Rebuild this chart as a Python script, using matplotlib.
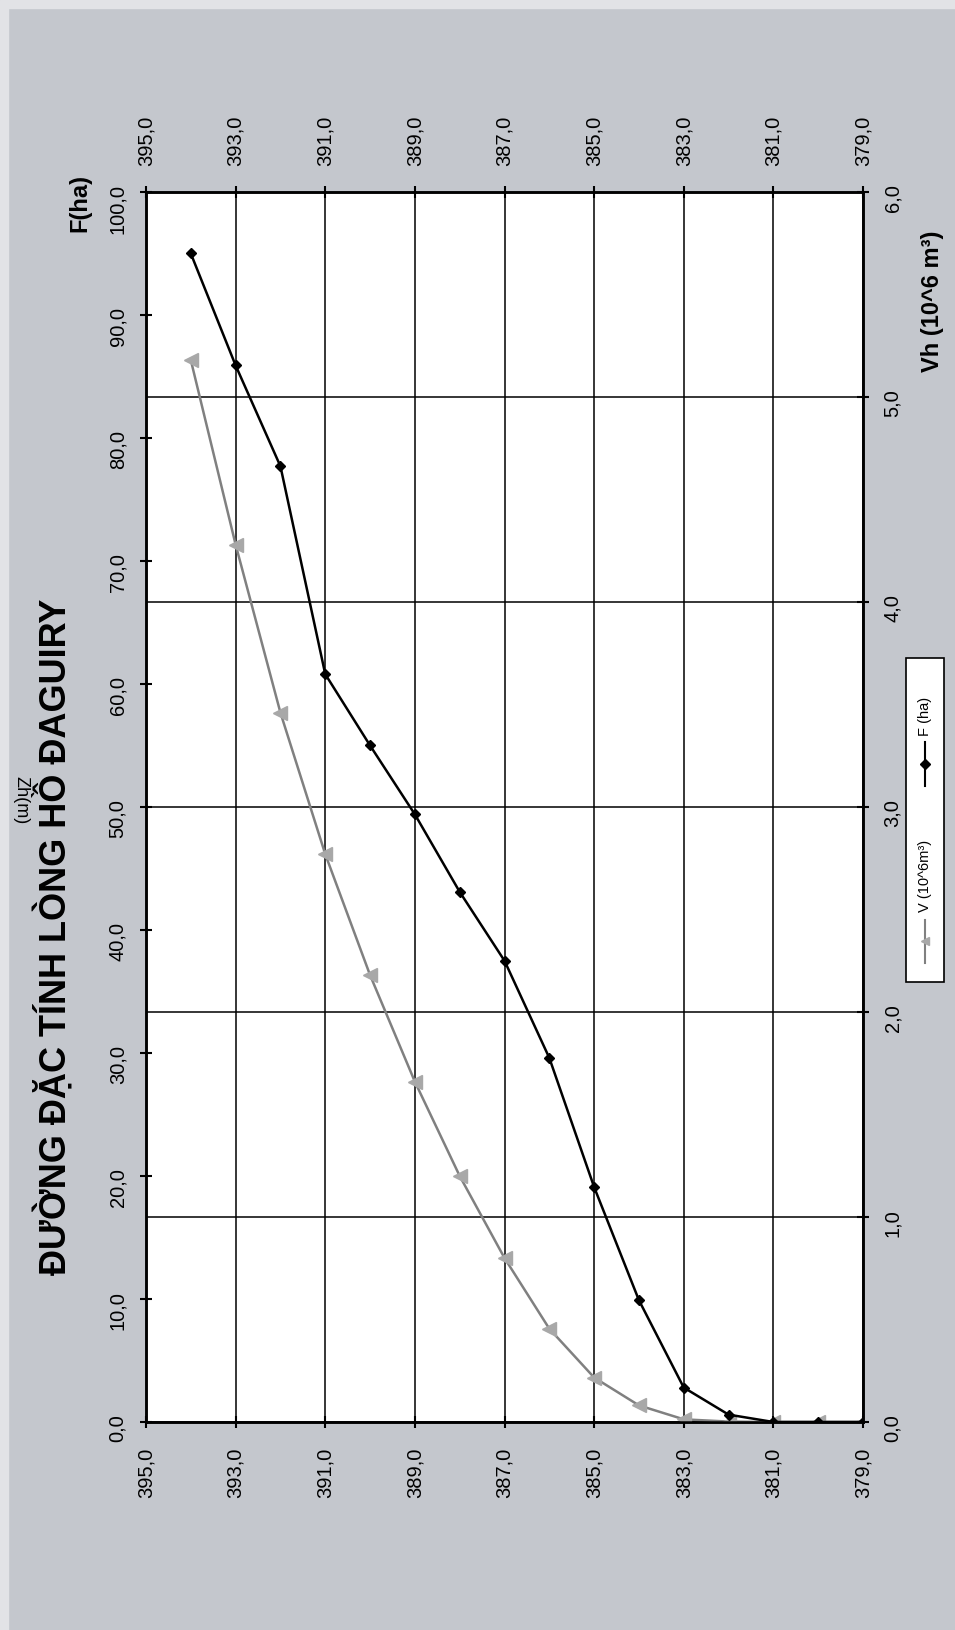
import numpy as np
import matplotlib
matplotlib.use('Agg')
import matplotlib.pyplot as plt
from matplotlib.ticker import FuncFormatter, MultipleLocator
from matplotlib.patches import Rectangle
from matplotlib.lines import Line2D

plt.rcParams['font.family'] = ['Liberation Sans', 'DejaVu Sans']

# Cao trinh mat nuoc (m), dien tich F (ha), dung tich V (10^6 m3)
cao_trinh = np.array([394, 393, 392, 391, 390, 389, 388, 387, 386, 385, 384, 383, 382, 381, 380, 379])
dien_tich = np.array([95.0, 85.9, 77.7, 60.8, 55.0, 49.4, 43.1, 37.5, 29.6, 19.1, 9.9, 2.8, 0.6, 0.0, 0.0, 0.0])
dung_tich = np.array([5.18, 4.28, 3.46, 2.77, 2.18, 1.66, 1.20, 0.80, 0.455, 0.217, 0.081, 0.013, 0.002, 0.0, 0.0, 0.0])

z_ticks = np.arange(395, 378, -2)
v_ticks = np.arange(0, 7, 1)

tieu_de = 'ĐƯỜNG ĐẶC TÍNH LÒNG HỒ ĐAGUIRY'

W, H = 955, 1630
fig = plt.figure(figsize=(W / 100, H / 100), dpi=100)
fig.patch.set_facecolor('#c4c7cd')
fig.add_artist(Rectangle((0, 0), 8 / W, 1, transform=fig.transFigure, color='#e2e3e6', zorder=0))
fig.add_artist(Rectangle((0, 1 - 8 / H), 1, 8 / H, transform=fig.transFigure, color='#e2e3e6', zorder=0))

ax = fig.add_axes([146 / W, 208 / H, 717 / W, 1230 / H])
axF = ax.twinx()

fmt = FuncFormatter(lambda v, p: f'{v:.1f}'.replace('.', ','))

# truc V (ben phai) + luoi
ax.set_facecolor('white')
ax.set_xlim(395, 379)
ax.set_ylim(0, 6)
ax.set_xticks(z_ticks)
ax.set_yticks(v_ticks)
ax.xaxis.set_major_formatter(fmt)
ax.yaxis.set_major_formatter(fmt)
ax.yaxis.tick_right()
ax.tick_params(axis='x', top=True, labeltop=True, bottom=True, labelbottom=True,
               labelrotation=90, direction='inout', length=9, width=1.5, labelsize=14.5, pad=14)
ax.tick_params(axis='y', left=False, labelleft=False, right=True, labelright=True,
               labelrotation=90, direction='inout', length=9, width=1.5, labelsize=14.5, pad=10)
ax.grid(True, color='black', lw=1.1)
ax.plot(cao_trinh, dung_tich, color='#808080', lw=1.8, marker='<', ms=10,
        mfc='#a8a8a8', mec='#a8a8a8', zorder=3)

# truc F (ben trai)
axF.set_ylim(0, 100)
axF.yaxis.set_major_locator(MultipleLocator(10))
axF.yaxis.set_major_formatter(fmt)
axF.yaxis.tick_left()
axF.tick_params(axis='y', left=True, labelleft=True, right=False, labelright=False,
                labelrotation=90, direction='inout', length=9, width=1.5, labelsize=14.5, pad=9)
axF.plot(cao_trinh, dien_tich, color='black', lw=1.8, marker='D', ms=5.5, zorder=4)

for a in (ax, axF):
    for s in a.spines.values():
        s.set_linewidth(1.8)
        s.set_color('black')

# chu thich
fig.text(53 / W, 1 - 937 / H, tieu_de, rotation=90, ha='center', va='center',
         fontsize=26, fontweight='bold')
fig.text(80 / W, 1 - 203 / H, 'F(ha)', rotation=90, ha='center', va='center',
         fontsize=17, fontweight='bold')
fig.text(932 / W, 1 - 301 / H, 'Vh (10^6 m³)', rotation=90, ha='center', va='center',
         fontsize=17, fontweight='bold')
fig.text(21 / W, 1 - 800 / H, 'Zh(m)', rotation=270, ha='center', va='center', fontsize=13)

# legend (ve tay vi bieu do xoay)
fig.add_artist(Rectangle((906 / W, 1 - 982 / H), 38 / W, 324 / H, transform=fig.transFigure,
                         facecolor='white', edgecolor='black', lw=1.2, zorder=5))
lx = 925 / W
fig.add_artist(Line2D([lx, lx], [1 - 786 / H, 1 - 742 / H], transform=fig.transFigure,
                      color='black', lw=1.5, zorder=6))
fig.add_artist(Line2D([lx], [1 - 764 / H], transform=fig.transFigure, color='black',
                      marker='D', ms=5, zorder=7))
fig.text(lx, 1 - 736 / H, 'F (ha)', rotation=90, ha='center', va='bottom', fontsize=10.5, zorder=7)
fig.add_artist(Line2D([lx, lx], [1 - 963 / H, 1 - 920 / H], transform=fig.transFigure,
                      color='#808080', lw=1.5, zorder=6))
fig.add_artist(Line2D([lx], [1 - 941 / H], transform=fig.transFigure, color='#a8a8a8',
                      marker='<', ms=6, zorder=7))
fig.text(lx, 1 - 912 / H, 'V (10^6m³)', rotation=90, ha='center', va='bottom', fontsize=10.5, zorder=7)

fig.savefig('out.png', dpi=100, facecolor=fig.get_facecolor())
